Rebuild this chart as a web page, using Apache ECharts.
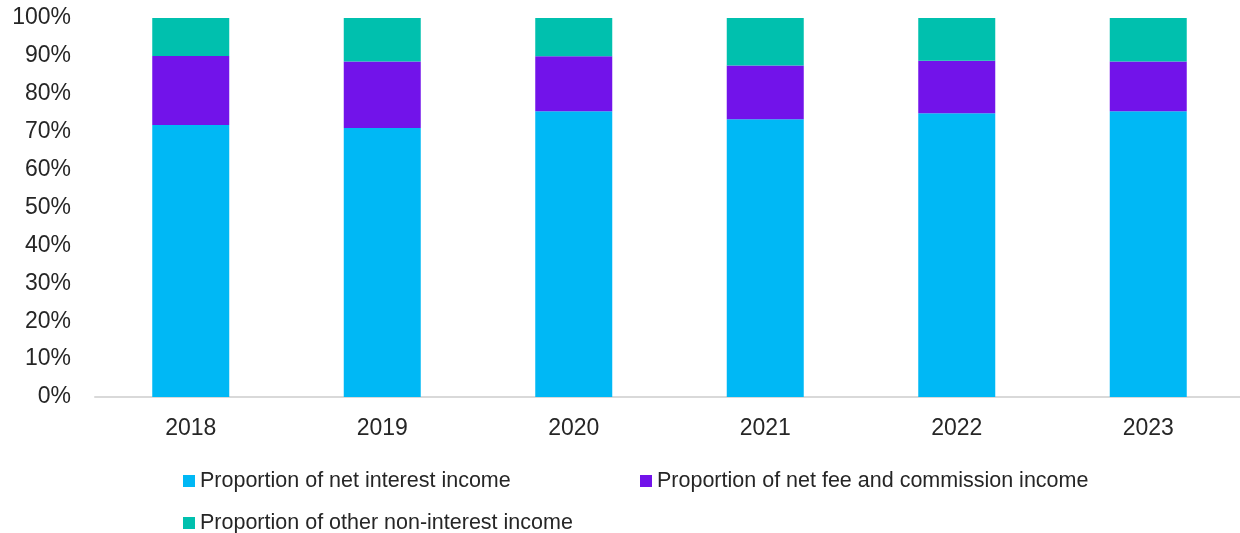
<!DOCTYPE html>
<html>
<head>
<meta charset="utf-8">
<script src="https://cdn.jsdelivr.net/npm/echarts@6/dist/echarts.min.js"></script>
<style>
  html, body { margin: 0; padding: 0; background: #ffffff; overflow: hidden; }
  #chart { width: 1250px; height: 533px; }
</style>
</head>
<body>
<div id="chart"></div>
<script>
// Income mix by year, shares in percent
const years = ['2018', '2019', '2020', '2021', '2022', '2023'];
const netInterest = [71.8, 71.0, 75.4, 73.3, 74.9, 75.4];
const feeCommission = [18.2, 17.5, 14.5, 14.2, 13.8, 13.1];
const otherNonInterest = [10.0, 11.5, 10.1, 12.5, 11.3, 11.5];

const seriesNames = [
  'Proportion of net interest income',
  'Proportion of net fee and commission income',
  'Proportion of other non-interest income'
];
const colors = ['#00B8F5', '#7213EA', '#00C0AE'];
const textColor = '#262626';
const fontFamily = 'Liberation Sans, Arial, sans-serif';

const chart = echarts.init(document.getElementById('chart'));

function legendAt(name, left, top) {
  return {
    data: [name],
    left: left,
    top: top,
    itemWidth: 12,
    itemHeight: 12,
    itemGap: 0,
    icon: 'rect',
    textStyle: { color: textColor, fontSize: 21.5, fontFamily: fontFamily, padding: [0, 0, 0, 0] }
  };
}

function barSeries(name, values, color) {
  return {
    name: name,
    type: 'bar',
    stack: 'total',
    data: values,
    barWidth: 77,
    itemStyle: { color: color },
    emphasis: { disabled: true }
  };
}

chart.setOption({
  animation: false,
  color: colors,
  grid: { left: 95, top: 18, width: 1149, height: 379, containLabel: false },
  legend: [
    legendAt(seriesNames[0], 178, 465),
    legendAt(seriesNames[1], 635, 465),
    legendAt(seriesNames[2], 178, 507)
  ],
  xAxis: {
    type: 'category',
    data: years,
    axisLine: { lineStyle: { color: '#d9d9d9', width: 2 } },
    axisTick: { show: false },
    axisLabel: { color: textColor, fontSize: 23, fontFamily: fontFamily, margin: 20 }
  },
  yAxis: {
    type: 'value',
    min: 0,
    max: 100,
    interval: 10,
    axisLine: { show: false },
    axisTick: { show: false },
    splitLine: { show: false },
    axisLabel: {
      color: textColor,
      fontSize: 23,
      fontFamily: fontFamily,
      margin: 24,
      formatter: '{value}%'
    }
  },
  series: [
    barSeries(seriesNames[0], netInterest, colors[0]),
    barSeries(seriesNames[1], feeCommission, colors[1]),
    barSeries(seriesNames[2], otherNonInterest, colors[2])
  ]
});
</script>
</body>
</html>
